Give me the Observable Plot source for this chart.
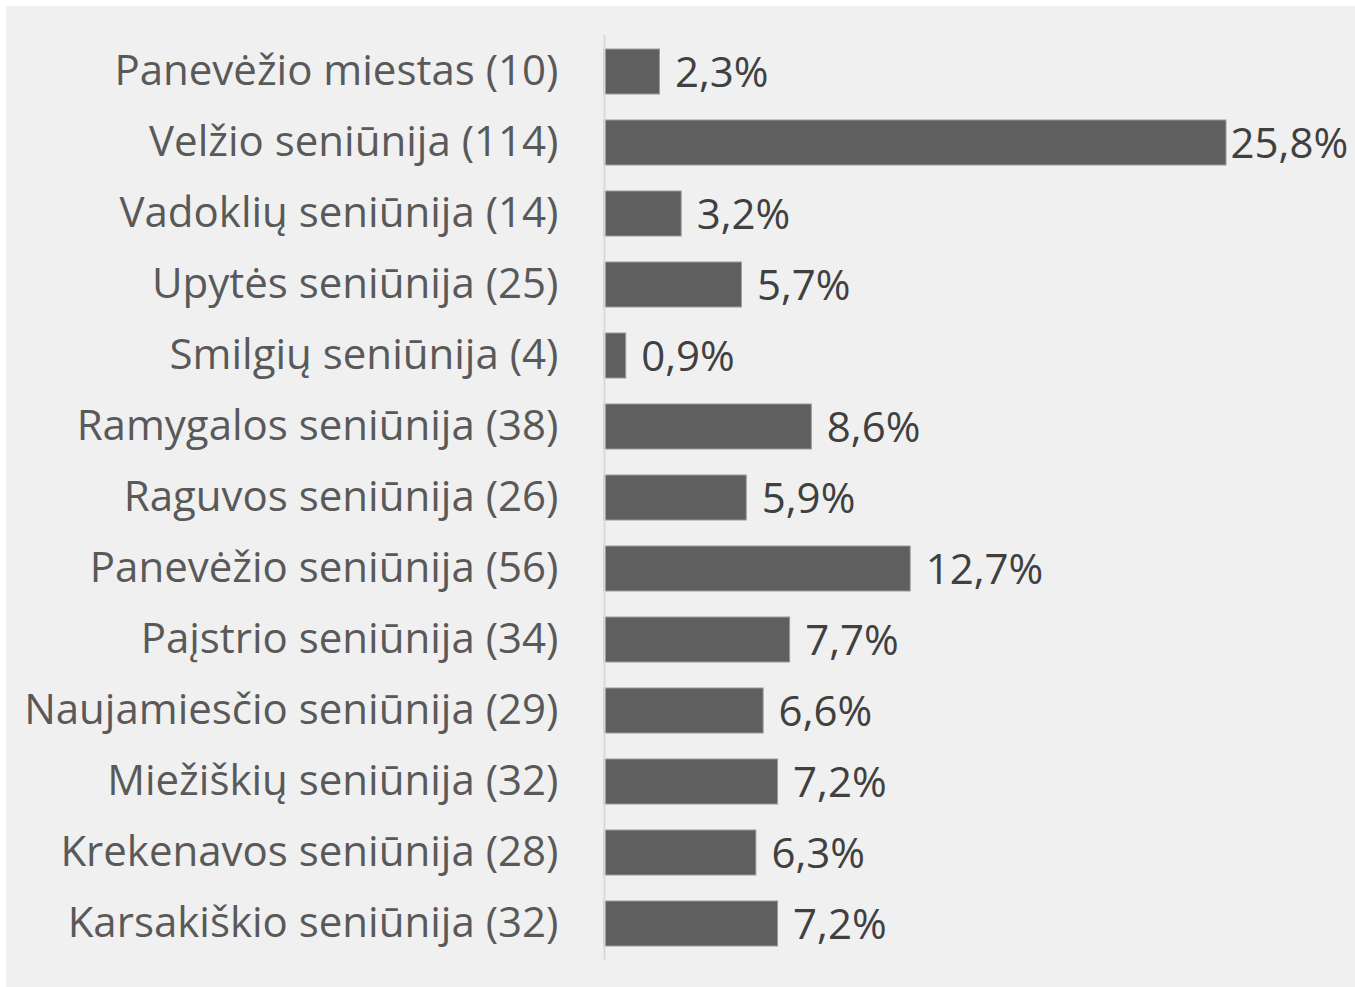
<!DOCTYPE html>
<html>
<head>
<meta charset="utf-8">
<script src="https://cdn.jsdelivr.net/npm/d3@7"></script>
<script src="https://cdn.jsdelivr.net/npm/@observablehq/plot@0.6"></script>
<style>
  html, body { margin: 0; padding: 0; background: #ffffff; }
  #wrap { position: absolute; left: 6px; top: 6px; width: 1349px; height: 981px; background: #f0f0f0; }
</style>
</head>
<body>
<div id="wrap"></div>
<script>
const categories = [
  "Panevėžio miestas",
  "Velžio seniūnija",
  "Vadoklių seniūnija",
  "Upytės seniūnija",
  "Smilgių seniūnija",
  "Ramygalos seniūnija",
  "Raguvos seniūnija",
  "Panevėžio seniūnija",
  "Paįstrio seniūnija",
  "Naujamiesčio seniūnija",
  "Miežiškių seniūnija",
  "Krekenavos seniūnija",
  "Karsakiškio seniūnija"
];
const counts = [10, 114, 14, 25, 4, 38, 26, 56, 34, 29, 32, 28, 32];
const percents = [2.3, 25.8, 3.2, 5.7, 0.9, 8.6, 5.9, 12.7, 7.7, 6.6, 7.2, 6.3, 7.2];

const labels = categories.map((c, i) => `${c} (${counts[i]})`);
const data = labels.map((l, i) => ({label: l, value: percents[i]}));
const maxV = d3.max(percents);
const fmt = v => v.toFixed(1).replace(".", ",") + "%";
const font = "'Open Sans', sans-serif";
const fs = 42;

const chart = Plot.plot({
  width: 1349,
  height: 981,
  marginLeft: 598,
  marginRight: 129,
  marginTop: 29,
  marginBottom: 27,
  style: {background: "#f0f0f0", fontFamily: font, fontSize: fs + "px"},
  x: {domain: [0, 25.8], axis: null},
  y: {domain: labels, paddingInner: 0.37, paddingOuter: 0.185, label: null},
  marks: [
    Plot.barX(data, {y: "label", x: "value", fill: "#5f5f5f", stroke: "#9a9a9a", strokeWidth: 1}),
    Plot.ruleX([0], {stroke: "#d9d9d9", strokeWidth: 2}),
    Plot.axisY({tickSize: 0, tickPadding: 46, fontSize: fs, fill: "#595959", color: "#595959", label: null}),
    Plot.text(data.filter(d => d.value !== maxV), {y: "label", x: "value", text: d => fmt(d.value), textAnchor: "start", dx: 15, dy: 2, fontSize: fs, fill: "#404040"}),
    Plot.text(data.filter(d => d.value === maxV), {y: "label", x: "value", text: d => fmt(d.value), textAnchor: "start", dx: 4, dy: 2, fontSize: fs, fill: "#404040"})
  ]
});
document.getElementById("wrap").appendChild(chart);
</script>
</body>
</html>
